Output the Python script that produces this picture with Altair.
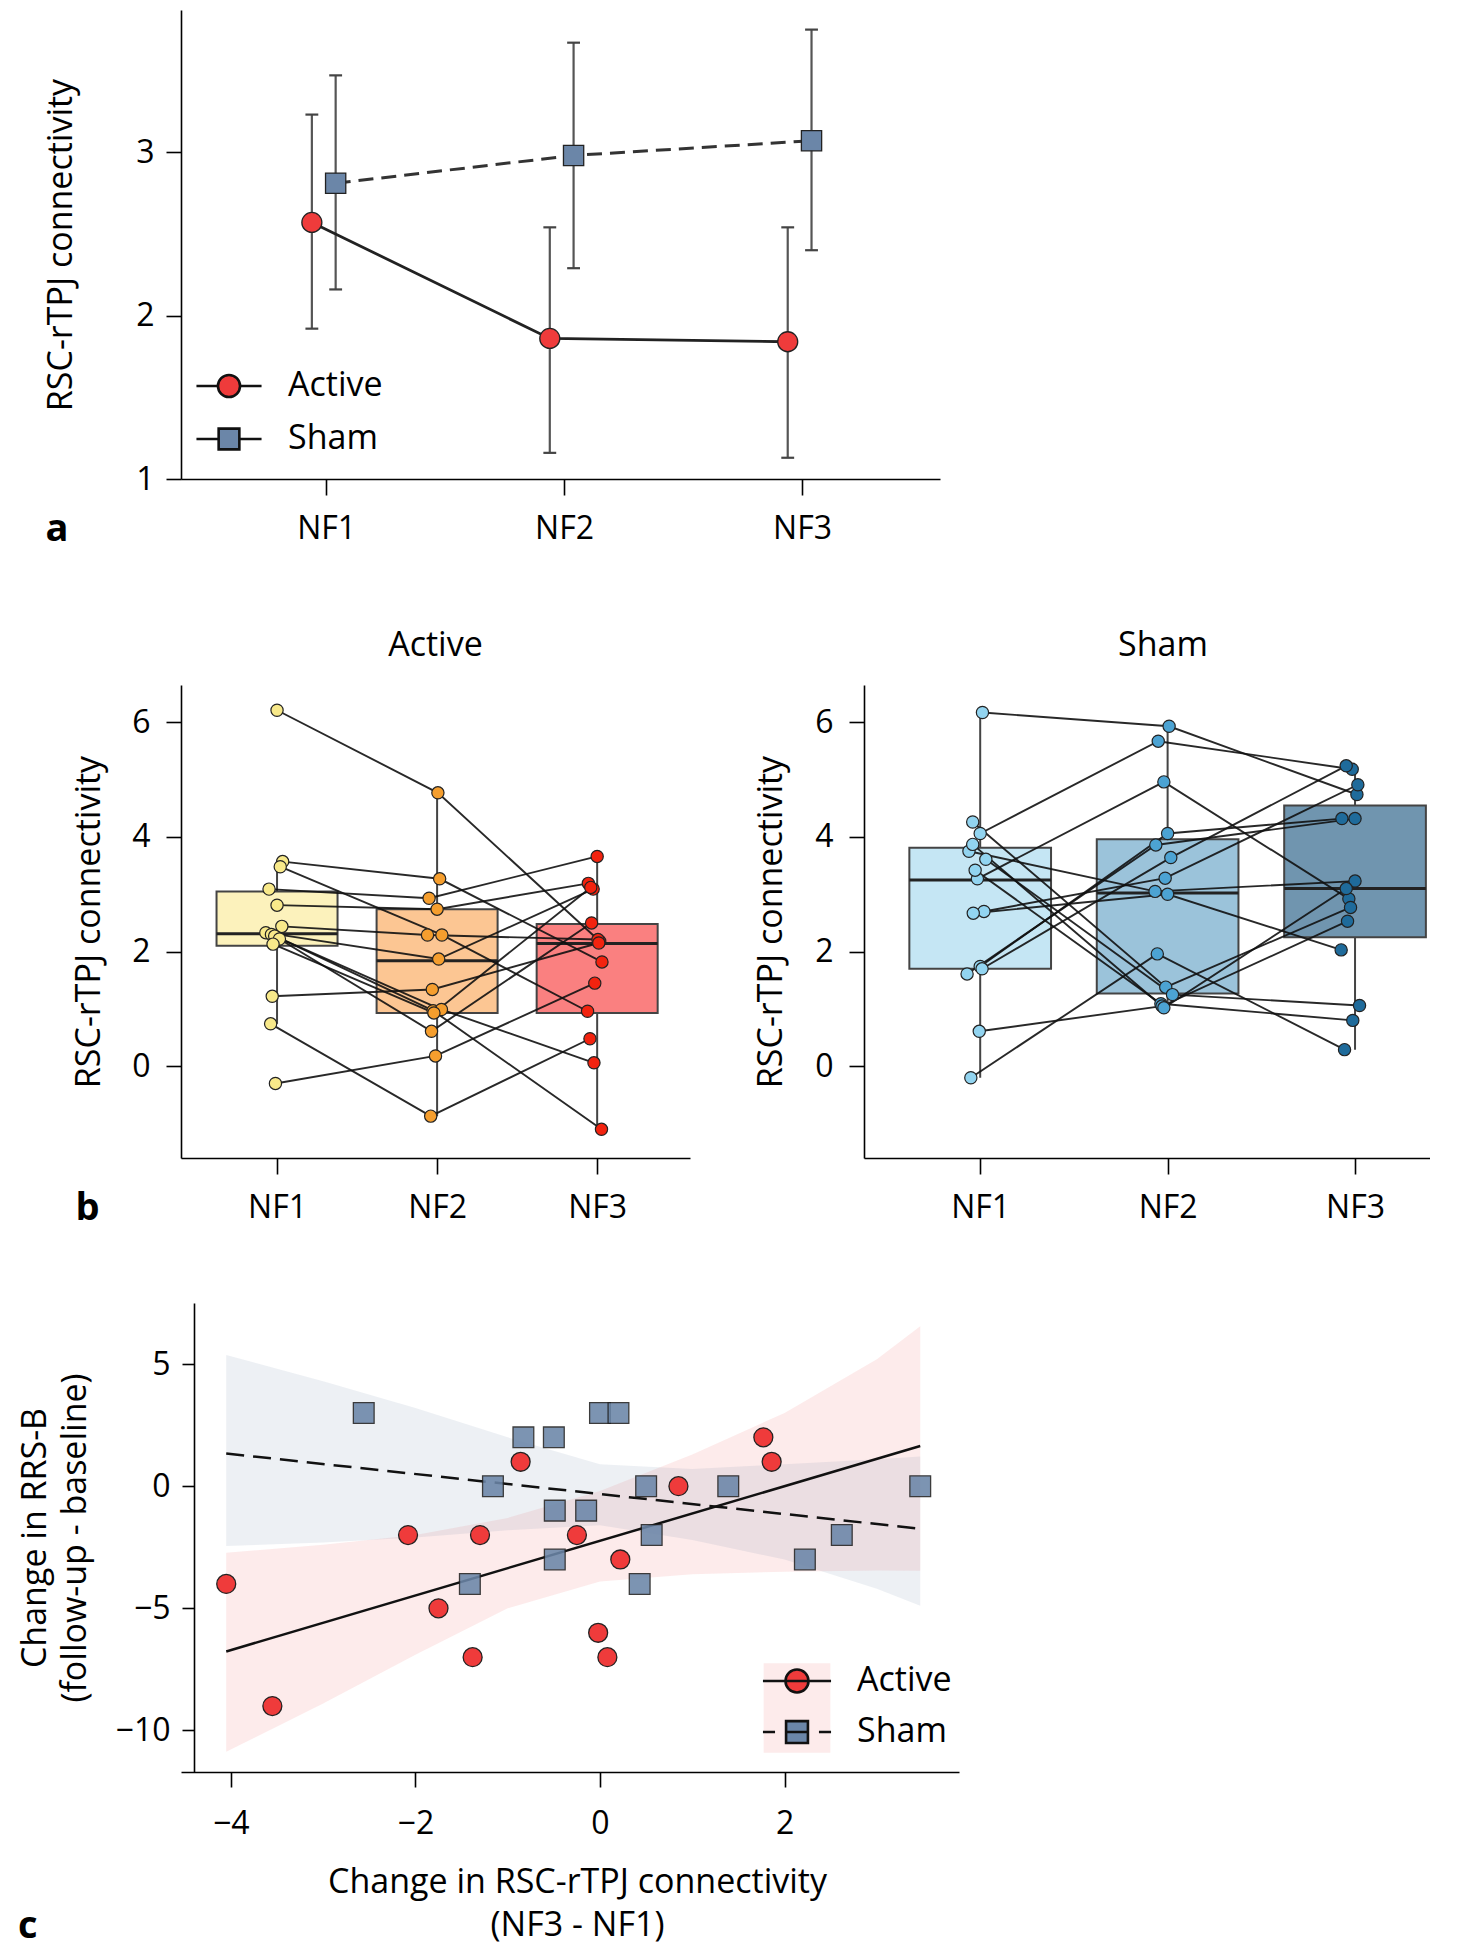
import altair as alt
import pandas as pd

FONT = "Open Sans"
RED = "#EF3B3B"
SLATE = "#6B86A8"

# ---------------- Panel a : group means with error bars ----------------
sessions = [1, 2, 3]
a_groups = ["Active", "Sham"]
a_active_mean = [2.57, 1.86, 1.84]
a_active_lo = [1.92, 1.16, 1.13]
a_active_hi = [3.23, 2.54, 2.54]
a_sham_mean = [2.81, 2.98, 3.07]
a_sham_lo = [2.16, 2.29, 2.40]
a_sham_hi = [3.47, 3.67, 3.75]

# ---------------- Panel b : individual subjects ----------------
act_nf1 = [6.21, 3.57, 3.48, 3.09, 2.81, 2.44, 2.33, 2.30, 2.27, 2.22, 2.13, 1.22, 0.74, -0.30]
act_nf2 = [4.77, 3.27, 2.29, 2.93, 2.74, 2.29, 1.87, 0.97, 0.99, 0.61, 0.93, 1.34, -0.87, 0.18]
act_nf3 = [2.18, 1.82, 0.96, 3.66, 3.19, 2.21, 3.09, -1.10, 0.06, 2.50, 3.12, 2.15, 0.48, 1.45]
act_j1 = [0.0, 0.035, 0.02, -0.05, 0.0, 0.03, -0.07, -0.035, -0.015, 0.015, -0.025, -0.03, -0.04, -0.01]
act_j2 = [0.005, 0.016, 0.03, -0.05, 0.0, -0.06, 0.01, -0.025, 0.027, -0.035, -0.02, -0.03, -0.04, -0.01]
act_j3 = [0.016, 0.03, -0.06, 0.0, -0.055, 0.005, -0.025, 0.027, -0.02, -0.035, -0.04, 0.01, -0.045, -0.015]

sh_nf1 = [6.17, 4.06, 3.27, 1.74, 1.61, 1.70, 2.70, 3.75, 2.67, -0.20, 4.26, 3.61, 3.42, 0.61, 3.87]
sh_nf2 = [5.93, 5.67, 4.96, 4.06, 3.86, 3.64, 3.28, 3.05, 3.00, 1.96, 1.38, 1.25, 1.09, 1.05, 1.02]
sh_nf3 = [4.74, 5.18, 2.92, 4.32, 4.32, 5.24, 4.91, 3.23, 2.03, 0.29, 2.77, 1.06, 0.80, 2.53, 3.10]
sh_j1 = [0.012, 0.0, -0.015, 0.0, -0.07, 0.01, 0.02, -0.06, -0.037, -0.05, -0.04, 0.03, -0.027, -0.005, -0.04]
sh_j2 = [0.008, -0.05, -0.02, 0.0, -0.063, 0.017, -0.013, -0.067, 0.0, -0.055, -0.01, 0.026, -0.036, -0.03, -0.02]
sh_j3 = [0.01, -0.015, -0.033, -0.07, 0.0, -0.047, 0.015, 0.0, -0.074, -0.056, -0.024, 0.024, -0.012, -0.04, -0.047]

# box statistics
act_q1 = [2.10, 0.93, 0.93]
act_med = [2.31, 1.84, 2.14]
act_q3 = [3.05, 2.74, 2.48]
act_wlo = [0.74, -0.87, -1.10]
act_whi = [3.57, 4.77, 3.66]
sh_q1 = [1.70, 1.27, 2.25]
sh_med = [3.25, 3.02, 3.10]
sh_q3 = [3.81, 3.96, 4.55]
sh_wlo = [-0.20, 1.02, 0.29]
sh_whi = [6.17, 5.93, 5.24]

act_box_colors = ["#FCF2BC", "#FCC693", "#FA8080"]
act_pt_colors = ["#F8E98A", "#F59E2E", "#F2230F"]
sh_box_colors = ["#C5E6F4", "#9BC3DA", "#7095AF"]
sh_pt_colors = ["#92D4F0", "#4CA3D3", "#1F6B9B"]

# ---------------- Panel c : change scores ----------------
c_act_x = [-4.05, -3.55, -2.08, -1.75, -1.38, -1.30, -0.86, -0.25, -0.02, 0.08, 0.22, 0.85, 1.77, 1.86]
c_act_y = [-4, -9, -2, -5, -7, -2, 1, -2, -6, -7, -3, 0, 2, 1]
c_sh_x = [-2.56, -1.41, -1.16, -0.83, -0.50, -0.49, -0.49, -0.15, 0.0, 0.20, 0.43, 0.50, 0.56, 1.39, 2.22, 2.62, 3.47]
c_sh_y = [3, -4, 0, 2, 2, -1, -3, -1, 3, 3, -4, 0, -2, 0, -3, -2, 0]
c_band_x = [-4.05, -3, -2, -1, 0, 1, 2, 3, 3.47]
c_act_upper = [-2.72, -2.4, -2.0, -1.3, -0.2, 1.3, 3.0, 5.2, 6.55]
c_act_lower = [-10.87, -8.9, -6.9, -5.0, -3.9, -3.6, -3.5, -3.45, -3.46]
c_sh_upper = [5.37, 4.3, 3.2, 2.0, 0.9, 0.7, 0.9, 1.1, 1.22]
c_sh_lower = [-2.45, -2.3, -2.1, -1.8, -1.6, -2.2, -3.0, -4.2, -4.89]

# legend symbols (custom paths: line + marker)
PATH_A_ACT = "M-2.83,0H-0.96M0.96,0H2.83M-0.96,0A0.96,0.96,0,1,1,0.96,0A0.96,0.96,0,1,1,-0.96,0Z"
PATH_A_SHAM = "M-2.83,0H-0.9M0.9,0H2.83M-0.9,-0.9H0.9V0.9H-0.9Z"
PATH_C_ACT = "M-2.96,0H2.96M-1,0A1,1,0,1,1,1,0A1,1,0,1,1,-1,0Z"
PATH_C_SHAM = "M-2.96,0H-1.91M1.91,0H2.96M-0.95,0H0.95M-0.95,-0.95H0.95V0.95H-0.95Z"
PATH_C_PATCH = "M-2.9,-3.9H2.9V3.9H-2.9Z"

AXIS_COMMON = dict(grid=False, domainColor="black", tickColor="black", domainWidth=1.6,
                   tickWidth=1.6, labelColor="black", titleColor="black", labelFont=FONT,
                   titleFont=FONT, labelFontSize=32, titleFontSize=34, titleFontWeight="normal")
AXIS_NOTITLEFONT = {k: v for k, v in AXIS_COMMON.items() if k not in ("titleFontWeight", "titleFontSize")}

# ======================= Panel a =======================
df_a = pd.DataFrame({
    "session": sessions + sessions,
    "group": ["Active"] * 3 + ["Sham"] * 3,
    "mean": a_active_mean + a_sham_mean,
    "lo": a_active_lo + a_sham_lo,
    "hi": a_active_hi + a_sham_hi,
})
xa = alt.Scale(domain=[0.39, 3.58], nice=False, zero=False)
ya = alt.Scale(domain=[1, 3.87], nice=False, zero=False)
ax_a_x = alt.Axis(values=[1, 2, 3], labelExpr="'NF' + datum.value", tickSize=16, labelPadding=18,
                  title="a", titleX=-136, titleY=61, titleAlign="left", titleBaseline="alphabetic",
                  titleFontWeight="bold", titleFontSize=38, titleAngle=0, **AXIS_NOTITLEFONT)
ax_a_y = alt.Axis(values=[1, 2, 3], tickSize=15, labelPadding=12, title="RSC-rTPJ connectivity",
                  titlePadding=57, **AXIS_COMMON)

base_a = alt.Chart(df_a).transform_calculate(
    xd="datum.session + (datum.group == 'Active' ? -0.06 : 0.04)"
).transform_calculate(xl="datum.xd - 0.027", xr="datum.xd + 0.027")

err_a = base_a.mark_rule(color="#555555", strokeWidth=2.2).encode(
    x=alt.X("xd:Q", scale=xa, axis=ax_a_x), y=alt.Y("lo:Q", scale=ya, axis=ax_a_y), y2="hi:Q")
caplo_a = base_a.mark_rule(color="#444444", strokeWidth=2.2).encode(
    x=alt.X("xl:Q", scale=xa, axis=ax_a_x), x2="xr:Q", y=alt.Y("lo:Q", scale=ya, axis=ax_a_y))
caphi_a = base_a.mark_rule(color="#444444", strokeWidth=2.2).encode(
    x=alt.X("xl:Q", scale=xa, axis=ax_a_x), x2="xr:Q", y=alt.Y("hi:Q", scale=ya, axis=ax_a_y))
line_act_a = base_a.transform_filter("datum.group == 'Active'").mark_line(color="#222222", strokeWidth=2.8).encode(
    x=alt.X("xd:Q", scale=xa, axis=ax_a_x), y=alt.Y("mean:Q", scale=ya, axis=ax_a_y), order="session:Q")
line_sh_a = base_a.transform_filter("datum.group == 'Sham'").mark_line(color="#333333", strokeWidth=3, strokeDash=[15, 8]).encode(
    x=alt.X("xd:Q", scale=xa, axis=ax_a_x), y=alt.Y("mean:Q", scale=ya, axis=ax_a_y), order="session:Q")
pt_act_a = base_a.transform_filter("datum.group == 'Active'").mark_point(
    shape="circle", filled=True, fill=RED, stroke="#222222", strokeWidth=1.3, size=400, opacity=1).encode(
    x=alt.X("xd:Q", scale=xa, axis=ax_a_x), y=alt.Y("mean:Q", scale=ya, axis=ax_a_y))
pt_sh_a = base_a.transform_filter("datum.group == 'Sham'").mark_point(
    shape="square", filled=True, fill=SLATE, stroke="#222222", strokeWidth=1.3, size=410, opacity=1).encode(
    x=alt.X("xd:Q", scale=xa, axis=ax_a_x), y=alt.Y("mean:Q", scale=ya, axis=ax_a_y))

leg_a = alt.Legend(orient="none", legendX=31, legendY=359, title=None, labelFontSize=34, labelFont=FONT,
                   labelColor="black", symbolSize=529, symbolStrokeWidth=2.6, symbolStrokeColor="black",
                   labelOffset=42, rowPadding=19, padding=0, labelLimit=0)
legend_layer_a = alt.Chart(df_a).transform_filter("false").mark_point(
    filled=True, strokeWidth=2.6, size=529, opacity=1).encode(
    x=alt.X("session:Q", scale=xa, axis=ax_a_x), y=alt.Y("mean:Q", scale=ya, axis=ax_a_y),
    shape=alt.Shape("group:N", scale=alt.Scale(domain=a_groups, range=[PATH_A_ACT, PATH_A_SHAM]), legend=leg_a),
    fill=alt.Fill("group:N", scale=alt.Scale(domain=a_groups, range=[RED, SLATE]), legend=leg_a),
    stroke=alt.Stroke("group:N", scale=alt.Scale(domain=a_groups, range=["#111111", "#111111"]), legend=leg_a))

chart_a = alt.layer(err_a, caplo_a, caphi_a, line_act_a, line_sh_a, pt_act_a, pt_sh_a, legend_layer_a).properties(
    width=759, height=469)


# ======================= Panel b =======================
def subject_frame(v1, v2, v3, j1, j2, j3):
    rows = []
    for s in range(len(v1)):
        for sess, vals, jit in ((1, v1, j1), (2, v2, j2), (3, v3, j3)):
            rows.append({"subject": s, "session": sess, "value": vals[s], "jit": jit[s]})
    return pd.DataFrame(rows)


def box_frame(q1, med, q3, wlo, whi):
    return pd.DataFrame({"session": sessions, "q1": q1, "med": med, "q3": q3, "wlo": wlo, "whi": whi})


yb = alt.Scale(domain=[-1.6, 6.65], nice=False, zero=False)


def panel_b(df_pts, df_box, box_colors, pt_colors, xdom, width, title, title_dx, x_title, title_pad, ylab_pad):
    xs = alt.Scale(domain=xdom, nice=False, zero=False)
    if x_title:
        ax_x = alt.Axis(values=[1, 2, 3], labelExpr="'NF' + datum.value", tickSize=16, labelPadding=18,
                        title=x_title, titleX=-106, titleY=61, titleAlign="left", titleBaseline="alphabetic",
                        titleFontWeight="bold", titleFontSize=38, titleAngle=0, **AXIS_NOTITLEFONT)
    else:
        ax_x = alt.Axis(values=[1, 2, 3], labelExpr="'NF' + datum.value", tickSize=16, labelPadding=18,
                        title=None, **AXIS_COMMON)
    ax_y = alt.Axis(values=[0, 2, 4, 6], tickSize=15, labelPadding=ylab_pad, title="RSC-rTPJ connectivity",
                    titlePadding=title_pad, **AXIS_COMMON)
    bb = alt.Chart(df_box).transform_calculate(bx1="datum.session - 0.378", bx2="datum.session + 0.378")
    whisk = bb.mark_rule(color="#444444", strokeWidth=2).encode(
        x=alt.X("session:Q", scale=xs, axis=ax_x), y=alt.Y("wlo:Q", scale=yb, axis=ax_y), y2="whi:Q")
    box = bb.mark_rect(stroke="#444444", strokeWidth=2, opacity=1).encode(
        x=alt.X("bx1:Q", scale=xs, axis=ax_x), x2="bx2:Q", y=alt.Y("q1:Q", scale=yb, axis=ax_y), y2="q3:Q",
        fill=alt.Fill("session:O", scale=alt.Scale(domain=sessions, range=box_colors), legend=None))
    med = bb.mark_rule(color="#222222", strokeWidth=3).encode(
        x=alt.X("bx1:Q", scale=xs, axis=ax_x), x2="bx2:Q", y=alt.Y("med:Q", scale=yb, axis=ax_y))
    pb = alt.Chart(df_pts).transform_calculate(xj="datum.session + datum.jit")
    lines = pb.mark_line(color="#111111", strokeWidth=1.9, opacity=0.9).encode(
        x=alt.X("xj:Q", scale=xs, axis=ax_x), y=alt.Y("value:Q", scale=yb, axis=ax_y),
        detail="subject:N", order="session:Q")
    pts = pb.mark_circle(size=150, stroke="#222222", strokeWidth=1.2, opacity=1).encode(
        x=alt.X("xj:Q", scale=xs, axis=ax_x), y=alt.Y("value:Q", scale=yb, axis=ax_y),
        fill=alt.Fill("session:O", scale=alt.Scale(domain=sessions, range=pt_colors), legend=None))
    return alt.layer(whisk, box, med, lines, pts).resolve_scale(fill="independent").properties(
        width=width, height=473,
        title=alt.TitleParams(title, fontSize=34, fontWeight="normal", font=FONT, color="black", offset=22,
                              dx=title_dx))


df_act = subject_frame(act_nf1, act_nf2, act_nf3, act_j1, act_j2, act_j3)
df_sh = subject_frame(sh_nf1, sh_nf2, sh_nf3, sh_j1, sh_j2, sh_j3)
chart_act = panel_b(df_act, box_frame(act_q1, act_med, act_q3, act_wlo, act_whi), act_box_colors, act_pt_colors,
                    [0.4, 3.58], 509, "Active", 0, "b", 25, 16)
chart_sh = panel_b(df_sh, box_frame(sh_q1, sh_med, sh_q3, sh_wlo, sh_whi), sh_box_colors, sh_pt_colors,
                   [0.38, 3.40], 566, "Sham", 16, None, 26, 16)

# ======================= Panel c =======================
df_c = pd.DataFrame({
    "x": c_act_x + c_sh_x,
    "y": c_act_y + c_sh_y,
    "group": ["Active"] * len(c_act_x) + ["Sham"] * len(c_sh_x),
})
df_band = pd.DataFrame({
    "x": c_band_x + c_band_x,
    "upper": c_act_upper + c_sh_upper,
    "lower": c_act_lower + c_sh_lower,
    "group": ["Active"] * len(c_band_x) + ["Sham"] * len(c_band_x),
})
ext = [min(c_act_x + c_sh_x), max(c_act_x + c_sh_x)]
xc = alt.Scale(domain=[-4.54, 3.89], nice=False, zero=False)
yc = alt.Scale(domain=[-11.7, 7.5], nice=False, zero=False)
ax_c_x = alt.Axis(values=[-4, -2, 0, 2], tickSize=15, labelPadding=21,
                  title=["Change in RSC-rTPJ connectivity", "(NF3 - NF1)"], titleX=396, titlePadding=26,
                  titleLineHeight=43, **AXIS_COMMON)
ax_c_y = alt.Axis(values=[-10, -5, 0, 5], tickSize=12, labelPadding=12, offset=-13,
                  title=["Change in RRS-B", "(follow-up - baseline)"], titlePadding=23, titleLineHeight=40,
                  **AXIS_COMMON)

band_act = alt.Chart(df_band).transform_filter("datum.group == 'Active'").mark_area(color=RED, opacity=0.1).encode(
    x=alt.X("x:Q", scale=xc, axis=ax_c_x), y=alt.Y("lower:Q", scale=yc, axis=ax_c_y), y2="upper:Q")
band_sh = alt.Chart(df_band).transform_filter("datum.group == 'Sham'").mark_area(color=SLATE, opacity=0.12).encode(
    x=alt.X("x:Q", scale=xc, axis=ax_c_x), y=alt.Y("lower:Q", scale=yc, axis=ax_c_y), y2="upper:Q")
reg_act = alt.Chart(df_c).transform_filter("datum.group == 'Active'").transform_regression(
    "x", "y", extent=ext).mark_line(color="#111111", strokeWidth=2.5).encode(
    x=alt.X("x:Q", scale=xc, axis=ax_c_x), y=alt.Y("y:Q", scale=yc, axis=ax_c_y))
reg_sh = alt.Chart(df_c).transform_filter("datum.group == 'Sham'").transform_regression(
    "x", "y", extent=ext).mark_line(color="#111111", strokeWidth=2.5, strokeDash=[18, 9]).encode(
    x=alt.X("x:Q", scale=xc, axis=ax_c_x), y=alt.Y("y:Q", scale=yc, axis=ax_c_y))
pts_sh = alt.Chart(df_c).transform_filter("datum.group == 'Sham'").mark_point(
    shape="square", filled=True, fill=SLATE, stroke="#222222", strokeWidth=1.3, size=430, opacity=0.88).encode(
    x=alt.X("x:Q", scale=xc, axis=ax_c_x), y=alt.Y("y:Q", scale=yc, axis=ax_c_y))
pts_act = alt.Chart(df_c).transform_filter("datum.group == 'Active'").mark_point(
    shape="circle", filled=True, fill=RED, stroke="#222222", strokeWidth=1.3, size=360, opacity=1).encode(
    x=alt.X("x:Q", scale=xc, axis=ax_c_x), y=alt.Y("y:Q", scale=yc, axis=ax_c_y))

leg_c = alt.Legend(orient="none", legendX=599, legendY=361, title=None, labelFontSize=34, labelFont=FONT,
                   labelColor="black", symbolSize=529, symbolStrokeWidth=2.6, symbolStrokeColor="black",
                   labelOffset=43, rowPadding=17, padding=0, labelLimit=0, zindex=2)
legend_layer_c = alt.Chart(df_c).transform_filter("false").mark_point(
    filled=True, strokeWidth=2.6, size=529, opacity=1).encode(
    x=alt.X("x:Q", scale=xc, axis=ax_c_x), y=alt.Y("y:Q", scale=yc, axis=ax_c_y),
    shape=alt.Shape("group:N", scale=alt.Scale(domain=a_groups, range=[PATH_C_ACT, PATH_C_SHAM]), legend=leg_c),
    fill=alt.Fill("group:N", scale=alt.Scale(domain=a_groups, range=[RED, SLATE]), legend=leg_c),
    stroke=alt.Stroke("group:N", scale=alt.Scale(domain=a_groups, range=["#111111", "#111111"]), legend=leg_c))

# pale band-coloured patch behind the legend handles (as in the original legend)
leg_patch = alt.Legend(orient="none", legendX=599, legendY=388, title=None, labelFontSize=34,
                       labelExpr="''", symbolType=PATH_C_PATCH, symbolSize=529, symbolFillColor="#FDEBEB",
                       symbolStrokeColor="#FDEBEB", symbolStrokeWidth=0, symbolOpacity=1,
                       padding=0, zindex=1)
patch_layer_c = alt.Chart(df_c).transform_filter("false").mark_point(
    filled=True, shape=PATH_C_PATCH, fill="#FDEBEB", strokeWidth=0, size=529, opacity=1).encode(
    x=alt.X("x:Q", scale=xc, axis=ax_c_x), y=alt.Y("y:Q", scale=yc, axis=ax_c_y),
    opacity=alt.Opacity("patch:N", scale=alt.Scale(domain=["band"], range=[1]), legend=leg_patch))

chart_c = alt.layer(band_act, band_sh, reg_act, reg_sh, pts_sh, pts_act, patch_layer_c, legend_layer_c).properties(
    width=778, height=469,
    title=alt.TitleParams("c", orient="bottom", anchor="start", frame="group", dx=-163, dy=-38,
                          fontSize=38, fontWeight="bold", font=FONT, color="black"))

top_rows = alt.vconcat(
    chart_a,
    alt.hconcat(chart_act, chart_sh, spacing=64).resolve_scale(fill="independent"),
    spacing=81,
).resolve_scale(shape="independent", fill="independent", stroke="independent")

chart = alt.vconcat(
    top_rows,
    chart_c,
    spacing=76,
).resolve_scale(
    shape="independent", fill="independent", stroke="independent", opacity="independent"
).resolve_legend(
    shape="independent", fill="independent", stroke="independent", opacity="independent"
).properties(
    padding={"left": 10, "top": 2, "right": 0, "bottom": 0}
).configure(font=FONT).configure_view(stroke=None)

chart.save("out.html", embed_options={"renderer": "svg", "actions": False})
